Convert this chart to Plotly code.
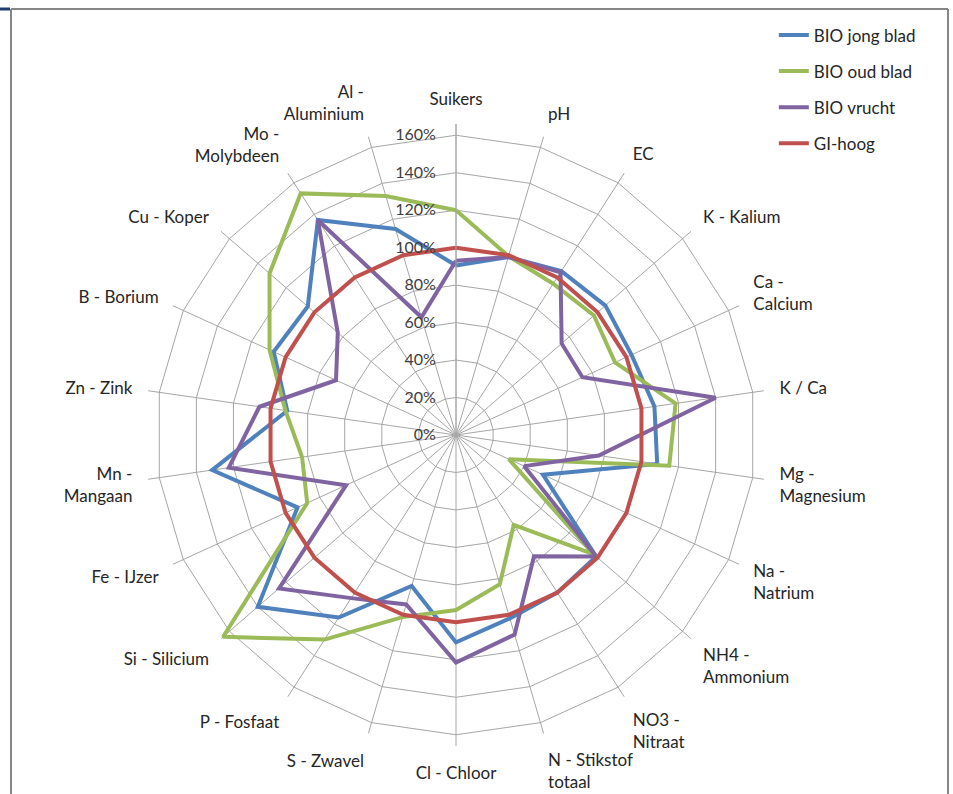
import plotly.graph_objects as go

categories = ["Suikers", "pH", "EC", "K - Kalium", "Ca -<br>Calcium", "K / Ca",
              "Mg -<br>Magnesium", "Na -<br>Natrium", "NH4 -<br>Ammonium", "NO3 -<br>Nitraat",
              "N - Stikstof<br>totaal", "Cl - Chloor", "S - Zwavel", "P - Fosfaat",
              "Si - Silicium", "Fe - IJzer", "Mn -<br>Mangaan", "Zn - Zink", "B - Borium",
              "Cu - Koper", "Mo -<br>Molybdeen", "Al -<br>Aluminium"]

bio_jong_blad = [90.5, 99, 104, 105.5, 103, 107, 108.5, 51, 99, 100, 102, 110.7,
                 84, 115.8, 140, 93, 131.5, 91, 107, 104.7, 136.4, 114.6]
bio_oud_blad = [120, 99.5, 96, 97.4, 93.3, 118.4, 115, 31, 97, 57, 83, 93.4,
                101.3, 129.8, 164.5, 87.3, 83, 92, 109.4, 131.7, 153.3, 133]
bio_vrucht = [93, 99, 103.2, 74.6, 74.2, 140, 77, 40, 99, 77, 111, 121.5,
              94.3, 103.5, 125, 64.5, 122.5, 106, 70.4, 83.5, 136.4, 65.5]
gi_hoog = [100] * 22

radial_ticks = [0, 20, 40, 60, 80, 100, 120, 140, 160]
radial_labels = [f"{v}%" for v in radial_ticks]

series = [
    ("BIO jong blad", bio_jong_blad, "#4F81BD"),
    ("BIO oud blad", bio_oud_blad, "#9BBB59"),
    ("BIO vrucht", bio_vrucht, "#8064A2"),
    ("GI-hoog", gi_hoog, "#C0504D"),
]

fig = go.Figure()
for i, (name, vals, col) in enumerate(series):
    fig.add_trace(go.Scatterpolar(
        r=vals + vals[:1],
        theta=categories + categories[:1],
        mode="lines",
        name=name,
        legendgroup=f"g{i}",
        line=dict(color=col, width=4),
    ))

W, H = 953, 794
cx, cy = 456, 435
R = 311
fig.update_layout(
    width=W, height=H,
    margin=dict(l=0, r=0, t=0, b=0),
    paper_bgcolor="white",
    font=dict(family="Lato, Liberation Sans, sans-serif", size=17, color="#262626"),
    polar=dict(
        domain=dict(x=[(cx - R) / W, (cx + R) / W],
                    y=[(H - cy - R) / H, (H - cy + R) / H]),
        bgcolor="white",
        gridshape="linear",
        radialaxis=dict(
            range=[0, 166],
            tickmode="array",
            tickvals=radial_ticks,
            ticktext=radial_labels,
            angle=90,
            tickangle=90,
            side="counterclockwise",
            showline=True,
            linecolor="#A6A6A6",
            gridcolor="#A6A6A6",
            gridwidth=1,
            ticks="outside",
            ticklen=14,
            tickcolor="rgba(0,0,0,0)",
            tickfont=dict(size=16, color="#404040"),
        ),
        angularaxis=dict(
            rotation=90,
            direction="clockwise",
            type="category",
            categoryarray=categories,
            showline=False,
            gridcolor="#A6A6A6",
            gridwidth=1,
            ticks="outside",
            ticklen=12,
            tickcolor="rgba(0,0,0,0)",
            tickfont=dict(size=17, color="#262626"),
        ),
    ),
    legend=dict(
        x=0.812, xanchor="left",
        y=0.978, yanchor="top",
        tracegroupgap=11,
        font=dict(size=17, color="#262626"),
        bgcolor="rgba(0,0,0,0)",
    ),
    shapes=[
        dict(type="line", xref="paper", yref="paper", x0=11 / W, x1=948 / W,
             y0=1 - 9 / H, y1=1 - 9 / H, line=dict(color="#868686", width=2)),
        dict(type="line", xref="paper", yref="paper", x0=11 / W, x1=11 / W,
             y0=1 - 9 / H, y1=0, line=dict(color="#868686", width=2)),
        dict(type="line", xref="paper", yref="paper", x0=948 / W, x1=948 / W,
             y0=1 - 9 / H, y1=0, line=dict(color="#868686", width=2)),
        dict(type="line", xref="paper", yref="paper", x0=0, x1=10 / W,
             y0=1 - 9 / H, y1=1 - 9 / H, line=dict(color="#1F3F6F", width=3)),
    ],
)

fig.write_html("out.html", config={"displayModeBar": False},
               post_script="document.body.style.margin='0';")
